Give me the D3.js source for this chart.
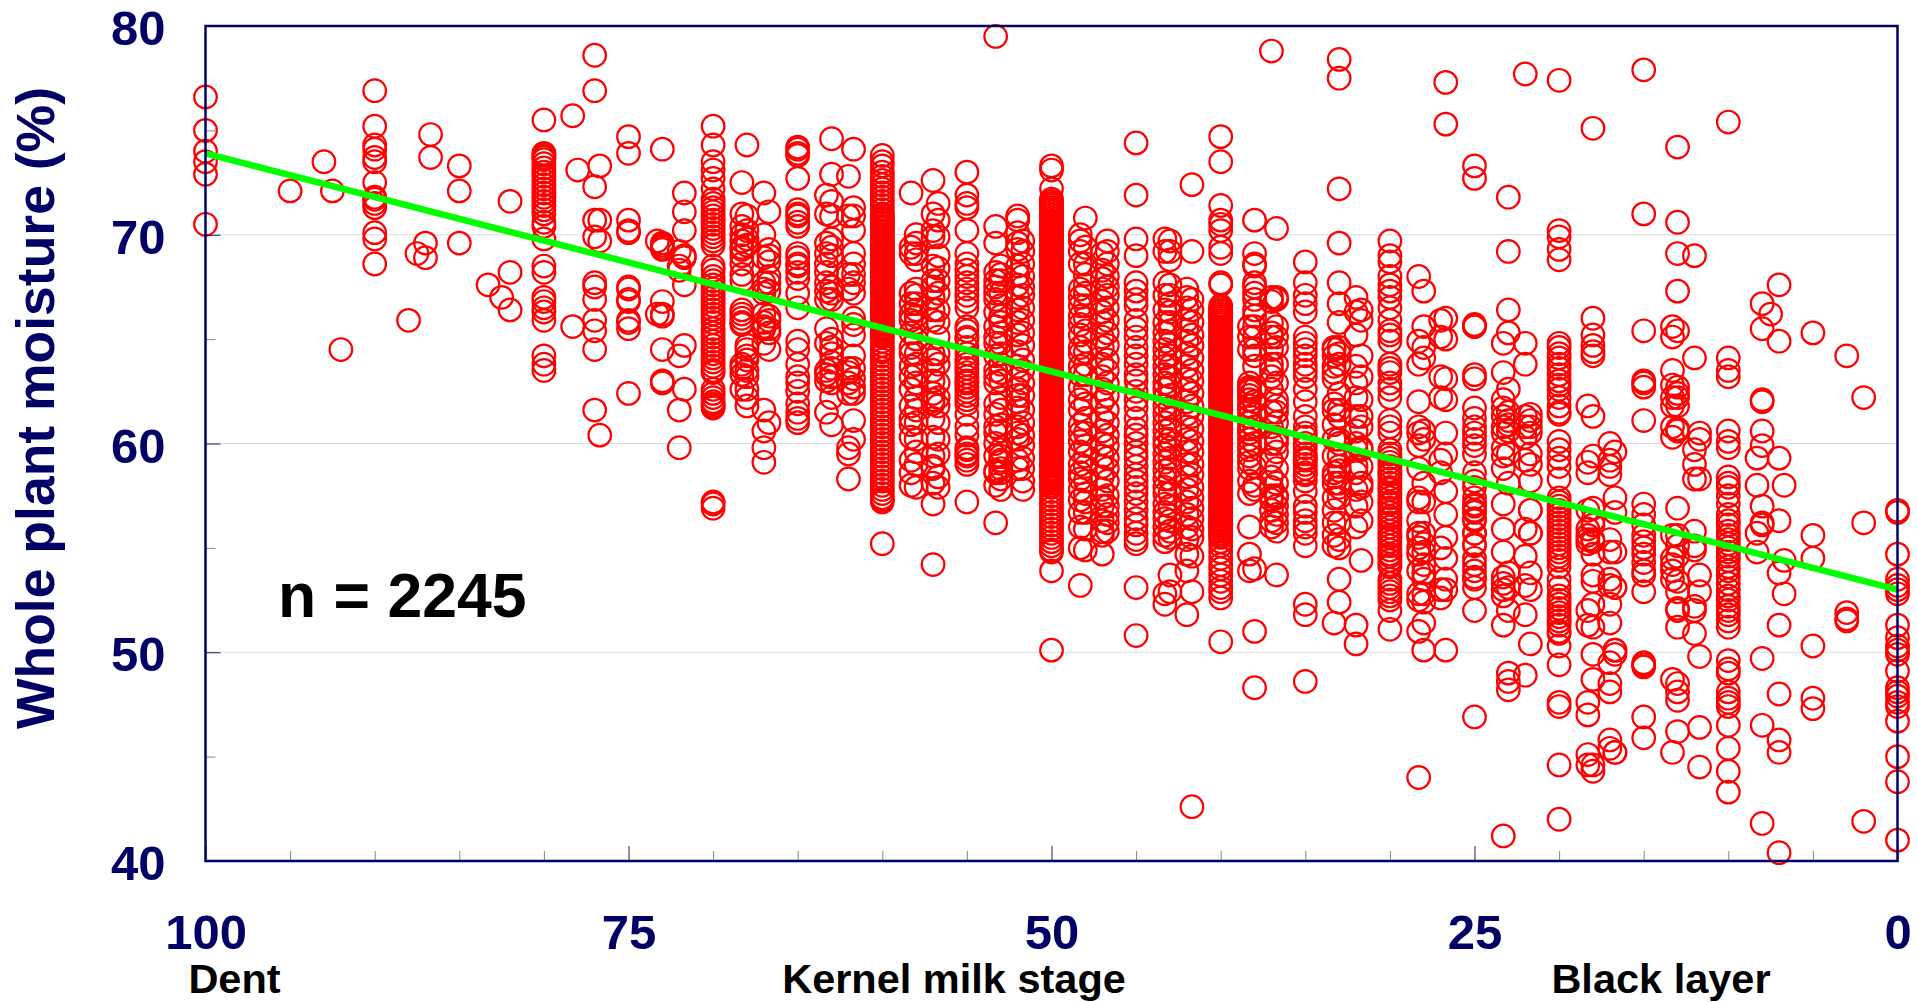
<!DOCTYPE html>
<html>
<head>
<meta charset="utf-8">
<title>Whole plant moisture by kernel milk stage</title>
<script src="https://d3js.org/d3.v7.min.js"></script>
<style>
    body { margin: 0; background: #fff; }
    text { font-family: "Liberation Sans", Arial, sans-serif; font-weight: bold; }
</style>
</head>
<body>
<script>
// milk stage (%) of each column of readings, moisture (%) readings at that stage in the same order
var stages = [100, 95, 93, 92.5, 92, 90, 88, 87.5, 87, 86.7, 85, 83.3, 82.5, 82, 80, 78.3, 78, 77, 76.7, 75,
    73.3, 73, 72, 71.7, 70, 68.3, 68, 67, 66.7, 65, 63.3, 63, 62, 61.7, 60, 58.3, 58, 57, 56.7, 55,
    53.3, 53, 52, 51.7, 50, 48.3, 48, 47, 46.7, 45, 43.3, 43, 42, 41.7, 40, 38.3, 38, 37, 36.7, 35,
    33.3, 33, 32, 31.7, 30, 28.3, 28, 27, 26.7, 25, 23.3, 23, 22, 21.7, 20, 18.3, 18, 17, 16.7, 15,
    13.3, 13, 12, 11.7, 10, 8.3, 8, 7.5, 7, 6.7, 5, 3, 2, 0];

var moisture = [
    [76.6, 75, 74, 73.5, 72.9, 70.5],
    [72.1],
    [73.5],
    [72.1],
    [64.5],
    [76.9, 75.2, 74.3, 74.1, 73.7, 73.5, 72.5, 71.8, 71.7, 71.5, 71.3, 70.1, 69.8, 68.6],
    [65.9],
    [69.1],
    [69.6, 68.9],
    [74.8, 73.7],
    [73.3, 72.1, 69.6],
    [67.6],
    [67],
    [71.6, 68.2, 66.4],
    [75.5, 73.9, 73.8, 73.7, 73.6, 73.4, 73.2, 73, 72.8, 72.6, 72.4, 72.2, 72, 71.8, 71.6, 71.4, 71.2, 71, 70.6, 70.4, 69.8, 68.5, 68.2, 67, 66.8, 66.5, 66.3, 65.9, 64.2, 63.8, 63.5],
    [75.7, 65.6],
    [73.1],
    [78.6, 76.9, 72.3, 70.7, 69.9, 67.7, 67.5, 66.9, 65.9, 65.4, 64.5, 61.6],
    [73.3, 70.7, 69.7, 60.4],
    [74.7, 73.9, 70.7, 70.2, 70.1, 67.5, 67.4, 66.9, 66.8, 65.9, 65.8, 65.5, 62.4],
    [69.7, 66.2],
    [74.1, 69.6, 69.5, 69.4, 69.3, 66.8, 66.2, 66.1, 64.5, 63, 62.9],
    [69.2, 68.5, 68.3, 64.2, 61.6, 59.8],
    [72, 71.1, 70.2, 69, 68.9, 67.6, 64.7, 62.6],
    [75.2, 74.3, 73.5, 73.1, 72.7, 72.2, 71.7, 71.5, 71.3, 71.1, 70.9, 70.7, 70.5, 70.3, 70.1, 69.9, 69.7, 69.5, 68.5, 68.3, 68, 67.8, 67.6, 67.4, 67.2, 67, 66.8, 66.6, 66.4, 66.2, 66, 65.8, 65.5, 65.3, 65.1, 64.9, 64.7, 64.5, 64.3, 64.1, 63.9, 63.7, 63.5, 63.4, 62.6, 62.4, 62.2, 62, 61.9, 61.8, 61.7, 57.2, 57.1, 56.9],
    [72.5, 71, 70.4, 70, 69.7, 69.4, 69.3, 69, 68.6, 68.1, 67.8, 66.4, 66.2, 66, 65.8, 65.7, 63.8, 63.6, 63.3, 62.6],
    [74.3, 70.9, 70.2, 69.8, 69.5, 64.7, 64.5, 64.2, 64, 63.5, 63.2, 62.6, 62.2, 61.8],
    [72, 70, 68.9, 67.7, 67.4, 67.2, 66.2, 65.8, 65.6, 65.5, 64.8, 61.6, 60.6, 59.8, 59.1],
    [71.1, 69.3, 69, 68.7, 68, 67.7, 67.3, 66.1, 65.9, 65.5, 65.3, 64.5, 61],
    [74.2, 74.1, 73.9, 73.8, 72.7, 71.2, 71, 70.9, 70.6, 70.4, 69.1, 68.9, 68.6, 68.5, 68.2, 67.9, 67.2, 66.5, 64.9, 64.5, 63.8, 63.2, 62.9, 62.5, 61.9, 61.5, 61.2, 61],
    [71.9, 71, 69.6, 69.1, 68.6, 68.2, 67.7, 67.3, 66.9, 65.5, 64.8, 63.5, 63.3, 63, 61.5],
    [74.6, 72.9, 71.6, 70.9, 69.8, 69.4, 69, 67.5, 67.2, 66.9, 65, 64.6, 64.3, 63.9, 63.6, 63.2, 62.9, 62.2, 60.9],
    [72.8, 70.9, 68.1, 67.4, 63.6, 63.4, 62.9, 62.4, 59.8, 59.5, 58.3],
    [74.1, 71.3, 70.9, 70.2, 69.1, 68.6, 68.1, 67.7, 67.2, 66, 65.7, 65.2, 64.2, 63.6, 63.1, 62.7, 62.4, 61.1, 60.2],
    [73.8, 73.5, 73.3, 73, 72.8, 72.6, 72.4, 72.2, 72, 71.8, 71.6, 71.4, 71.2, 71, 70.9, 70.8, 70.7, 70.6, 70.5, 70.4, 70.3, 70.2, 70.1, 70, 69.9, 69.8, 69.7, 69.6, 69.5, 69.4, 69.3, 69.2, 69.1, 69, 68.9, 68.8, 68.7, 68.6, 68.5, 68.4, 68.3, 68.2, 68.1, 68, 67.9, 67.8, 67.7, 67.6, 67.5, 67.4, 67.3, 67.2, 67.1, 67, 66.9, 66.8, 66.7, 66.6, 66.5, 66.4, 66.3, 66.2, 66.1, 66, 65.9, 65.8, 65.7, 65.6, 65.5, 65.4, 65.3, 65.2, 65.1, 64.9, 64.7, 64.5, 64.4, 64.2, 64, 63.8, 63.6, 63.4, 63.2, 63, 62.8, 62.6, 62.4, 62.2, 62, 61.8, 61.6, 61.4, 61.2, 61, 60.8, 60.6, 60.4, 60.2, 60, 59.8, 59.6, 59.4, 59.2, 59, 58.8, 58.6, 58.4, 58.2, 58, 57.8, 57.6, 57.4, 57.3, 57.2, 55.2],
    [72, 69.4, 69.1, 67.2, 66.7, 66.2, 65.9, 65.3, 64.6, 64.3, 63.7, 63.2, 62.6, 61.8, 61.2, 60.9, 60.3, 59.2, 58.6, 58],
    [70, 69.6, 69.1, 68.8, 67.4, 67.1, 66.7, 66.4, 66.1, 65.8, 65, 64.3, 63.8, 63.3, 62.9, 62.2, 61.6, 61, 60.2, 59.6, 59, 57.9],
    [72.6, 71, 70.2, 69.9, 68.5, 67.8, 67.5, 67, 66.4, 65.9, 64.3, 64, 63.5, 63, 62.4, 62.1, 61.9, 61.2, 60.3, 59.4, 58.9, 58.8, 58.1, 57.1, 54.2],
    [71.5, 70.7, 69.9, 69, 68.4, 67.8, 67.2, 66.4, 65.8, 65.1, 64.3, 63.8, 62.9, 62.2, 61.8, 61, 60.2, 59.5, 58.4, 57.9],
    [73, 71.9, 71.5, 71.3, 70.2, 69.1, 68.6, 68.3, 68, 67.7, 67.4, 67.1, 66.8, 66.5, 65.6, 65.4, 65.1, 65, 64.6, 64.3, 64, 63.8, 63.6, 63.4, 63.2, 63, 62.9, 62.7, 62.5, 62.3, 62.1, 61.9, 61.4, 60.8, 60.4, 59.8, 59.7, 59.5, 59.4, 59.2, 59, 57.2],
    [79.5, 70.4, 69.6, 68.2, 67.8, 67.5, 67.2, 66.9, 66.3, 65.6, 65.1, 64.8, 64.2, 63.5, 63.2, 62.9, 61.9, 61.4, 60.8, 60.5, 60, 59.4, 58.6, 58.7, 58, 56.2],
    [68.5, 68.1, 67.8, 67.2, 66.6, 66.1, 65.8, 65.3, 64.8, 64.3, 63.8, 63.4, 63, 62.2, 61.6, 60.9, 60.6, 59.7, 59.2, 58.6, 59.4, 59.1, 58.8, 58.3, 57.8],
    [70.9, 70.7, 70.1, 69.6, 69.3, 68.5, 68.1, 67.6, 67, 66.4, 65.8, 65.2, 64.4, 63.7, 63.1, 62.6, 62.3, 62, 61.7, 60.8, 60.5, 60.2, 59.2, 58.8],
    [69.7, 69.2, 68.6, 68, 67.5, 67.1, 66.5, 65.9, 65.3, 64.7, 64, 63.5, 62.9, 62.3, 61.6, 61, 60.4, 59.9, 59.3, 58.8, 58.2, 57.8],
    [73.3, 73.1, 72.2, 71.7, 71.6, 71.5, 71.4, 71.3, 71.2, 71.1, 71, 70.9, 70.8, 70.7, 70.6, 70.5, 70.4, 70.3, 70.2, 70.1, 70, 69.9, 69.8, 69.7, 69.6, 69.5, 69.4, 69.3, 69.2, 69.1, 69, 68.9, 68.8, 68.7, 68.6, 68.5, 68.4, 68.3, 68.2, 68.1, 68, 67.9, 67.8, 67.7, 67.6, 67.5, 67.4, 67.3, 67.2, 67.1, 67, 66.9, 66.8, 66.7, 66.6, 66.5, 66.4, 66.3, 66.2, 66.1, 66, 65.9, 65.8, 65.7, 65.6, 65.5, 65.4, 65.3, 65.2, 65.1, 65, 64.9, 64.8, 64.7, 64.6, 64.5, 64.4, 64.3, 64.2, 64.1, 64, 63.9, 63.8, 63.7, 63.6, 63.5, 63.4, 63.3, 63.2, 63.1, 63, 62.9, 62.8, 62.7, 62.6, 62.5, 62.4, 62.3, 62.2, 62.1, 62, 61.9, 61.8, 61.7, 61.6, 61.5, 61.4, 61.3, 61.2, 61.1, 61, 60.9, 60.8, 60.7, 60.6, 60.5, 60.4, 60.3, 60.2, 60.1, 60, 59.9, 59.8, 59.7, 59.6, 59.5, 59.4, 59.3, 59.2, 59.1, 59, 58.9, 58.8, 58.7, 58.6, 58.5, 58.4, 58.3, 58.2, 58.1, 58, 57.9, 57.7, 57.5, 57.3, 57.1, 56.9, 56.7, 56.5, 56.3, 56.1, 55.9, 55.7, 55.5, 55.3, 55.1, 54.9, 54.8, 53.9, 50.1],
    [70, 69.7, 69.2, 68.6, 67.4, 67, 66.6, 66.1, 65.7, 65.2, 64.6, 64.3, 63.7, 63.3, 62.7, 62.1, 61.6, 60.9, 60.5, 60.1, 59.6, 59, 58.6, 58.3, 57.8, 57.3, 56.7, 56, 55, 53.2],
    [70.8, 69.4, 68.6, 68.1, 67.6, 67.2, 66.6, 66, 65.4, 64.9, 64.4, 63.8, 63.3, 62.6, 61.9, 61.2, 60.5, 59.9, 59.4, 58.9, 58.2, 57.6, 57.2, 56.7, 55.9, 54.9],
    [69.1, 68.3, 67.9, 67.4, 66.8, 66.3, 65.8, 65.1, 64.6, 63.8, 63.2, 62.6, 62, 61.2, 60.6, 60, 59.4, 58.9, 58.4, 57.8, 57.4, 57, 56.3, 55.8, 55.6, 54.7],
    [69.7, 69.2, 68.6, 68, 67.5, 67.1, 66.5, 65.9, 65.3, 64.7, 64, 63.5, 62.9, 62.3, 61.6, 61, 60.4, 59.9, 59.3, 58.8, 58.2, 57.5, 57, 56.6, 56.2, 55.8],
    [74.4, 71.9, 69.8, 69, 67.7, 67.3, 66.9, 66.6, 65.9, 65.5, 65.1, 64.6, 64.2, 63.8, 63.3, 63, 62.5, 62.1, 61.7, 61.2, 60.7, 60.4, 60, 59.6, 59.3, 58.9, 58.5, 58.2, 57.9, 57.6, 57.2, 56.8, 56.4, 56.1, 55.7, 55.4, 55.2, 53.1, 50.8],
    [69.8, 69.2, 67.7, 67.1, 66.4, 65.8, 65.3, 64.9, 64.5, 64.1, 63.7, 63.3, 62.9, 62.6, 62.2, 61.8, 61.4, 61, 60.6, 60.2, 59.9, 59.5, 59.1, 58.7, 58.3, 57.9, 57.6, 57.1, 56.7, 56.4, 56, 55.6, 55.3, 52.8, 52.3],
    [69.7, 69.2, 68.8, 67.6, 67.1, 66.7, 66.3, 65.8, 65.4, 64.8, 64.2, 63.7, 63.2, 62.8, 62.3, 61.7, 61.2, 60.7, 60.2, 59.8, 59.3, 58.8, 58.3, 57.6, 57, 56.3, 55.8, 55.5, 53.7, 52.9],
    [67.4, 67, 66.5, 65.9, 65.4, 64.9, 64.3, 63.7, 63.1, 62.6, 62, 61.4, 60.8, 60.2, 59.6, 59, 58.4, 57.8, 57.2, 56.6, 56, 55.4, 54.7, 53.9, 51.8],
    [72.4, 69.2, 66.9, 66.4, 65.8, 65.2, 64.7, 64.1, 63.5, 63, 62.4, 61.8, 61.3, 60.7, 60.1, 59.6, 59, 58.5, 57.9, 57.4, 56.9, 56.4, 55.9, 55.5, 54.6, 52.9, 42.6],
    [74.7, 73.5, 71.4, 70.7, 70.5, 70.2, 69.4, 69.1, 67.7, 67.6, 66.6, 66.5, 66.4, 66.3, 66.2, 66.1, 66, 65.9, 65.8, 65.7, 65.6, 65.5, 65.4, 65.3, 65.2, 65.1, 65, 64.9, 64.8, 64.7, 64.6, 64.5, 64.4, 64.3, 64.2, 64.1, 64, 63.9, 63.8, 63.7, 63.6, 63.5, 63.4, 63.3, 63.2, 63.1, 63, 62.9, 62.8, 62.7, 62.6, 62.5, 62.4, 62.3, 62.2, 62.1, 62, 61.9, 61.8, 61.7, 61.6, 61.5, 61.4, 61.3, 61.2, 61.1, 61, 60.9, 60.8, 60.7, 60.6, 60.5, 60.4, 60.3, 60.2, 60.1, 60, 59.9, 59.8, 59.7, 59.6, 59.5, 59.4, 59.3, 59.2, 59.1, 59, 58.9, 58.8, 58.7, 58.6, 58.5, 58.4, 58.3, 58.2, 58.1, 58, 57.9, 57.8, 57.7, 57.6, 57.5, 57.4, 57.3, 57.2, 57.1, 57, 56.9, 56.8, 56.7, 56.6, 56.5, 56.4, 56.3, 56.2, 56.1, 56, 55.9, 55.8, 55.7, 55.6, 55.5, 55.3, 55.1, 54.8, 54.5, 54.2, 54, 53.7, 53.4, 53.1, 52.9, 52.6, 50.5],
    [65.6, 65.1, 64.5, 62.9, 62.7, 62.6, 62.5, 62.3, 62.1, 61.8, 61.6, 61.3, 61, 60.7, 60.5, 60.2, 59.9, 59.7, 59.4, 59.1, 58.8, 58.2, 57.6, 56, 54.7, 53.9],
    [70.7, 69.1, 68.6, 68.5, 67.7, 67.5, 67.2, 66.9, 66.4, 66.1, 65.6, 65.1, 64.5, 64.2, 63.7, 62.6, 62, 61.4, 60.8, 60, 58.9, 58, 57.8, 54, 51, 48.3],
    [78.8, 67, 66.8, 65.8, 65.3, 65.1, 64.5, 63.8, 63.5, 63.2, 62.6, 61.5, 60.8, 60, 59.2, 58.4, 57.9, 57.5, 57.3, 56.8, 56.3, 56],
    [70.3, 67, 66.9, 65.6, 65.1, 64.6, 63.8, 62.9, 62.1, 61.8, 61.5, 61, 60.3, 60, 59.6, 58.8, 58.1, 57.5, 57.4, 57, 56.6, 56.2, 55.8, 53.7],
    [68.7, 67.7, 67.1, 66.7, 66.3, 65.1, 64.8, 64.5, 64.2, 63.8, 63.5, 63.2, 62.6, 62, 61.3, 60.8, 60.5, 60.3, 60, 59.8, 59.5, 59.3, 59.2, 59, 58.8, 58.6, 58.5, 58.2, 57.7, 57, 56.7, 56.3, 56, 55.7, 55.1, 52.3, 51.8, 48.6],
    [64.6, 64.5, 64.2, 63.7, 63.4, 63.1, 61.9, 61.6, 60.9, 60.2, 59.4, 58.6, 58.4, 58.1, 57.4, 56.8, 56.2, 55.6, 55.1, 51.4],
    [78.4, 77.5, 72.2, 69.6, 67.7, 66.7, 65.8, 64.6, 64.3, 63.8, 62.4, 61.6, 61.3, 60.2, 60, 59.4, 58.9, 58.7, 58.1, 57.9, 57.4, 56.2, 55.4, 55, 53.5, 52.4],
    [67, 66.3, 65.2, 63.7, 62.9, 62.2, 61.3, 60.6, 60, 59.7, 58.9, 58.6, 57.8, 57, 56, 51.3, 50.4],
    [66.4, 65.9, 64.2, 63.2, 62.1, 61.3, 60.8, 59.8, 59.7, 58.9, 58.1, 57.9, 57.2, 56.3, 54.4],
    [69.7, 69, 68.7, 68, 67.6, 67.3, 67, 66.5, 65.9, 65.4, 65.2, 64.9, 63.8, 63.6, 63.4, 62.9, 62.6, 62.2, 61.1, 60.8, 60.5, 59.7, 59.5, 59.3, 59.1, 58.9, 58.7, 58.6, 58.5, 58.3, 58.1, 57.9, 57.8, 57.6, 57.4, 57.2, 57.1, 56.9, 56.7, 56.5, 56.4, 56.2, 56, 55.8, 55.6, 55.5, 55.3, 55.1, 54.9, 54.7, 54.6, 54.4, 54.2, 54.1, 53.5, 53.3, 53.1, 52.9, 52.7, 52.5, 52, 51.1],
    [68, 64.9, 63.8, 62, 60.8, 60.5, 59.9, 58.8, 57.4, 57.2, 56.3, 55.7, 55.5, 55, 54.7, 53.9, 52.8, 52.5, 51, 44],
    [67.3, 65.6, 64.6, 64.1, 60.6, 60.2, 58.1, 57.2, 55.7, 55.2, 54.8, 54.2, 53.8, 53.5, 52.8, 52.4, 51.4, 50.1],
    [65.9, 65.1, 63.2, 62.2, 59.2, 58.6, 55, 53, 52.6],
    [77.3, 75.3, 66, 65, 63.1, 62.1, 60.5, 59.5, 57.7, 56.6, 55.5, 54.5, 53.5, 53, 50.1],
    [73.3, 72.7, 65.7, 65.6, 65.6, 63.3, 63.1, 61.7, 61.2, 60.8, 60.5, 60.2, 59.9, 59.5, 58.6, 58.2, 57.9, 57.4, 57.1, 56.8, 56.4, 55.7, 55.2, 54.5, 53.5, 57, 56.7, 56.3, 55.7, 55.1, 54.2, 53.9, 53.6, 53.1, 52, 46.9],
    [64.8, 63.4, 62.1, 61.7, 61.3, 60.8, 60.5, 59.8, 59.4, 58.8, 57.1, 55.9, 54.8, 53.6, 53.3, 53, 52.7, 51.3, 41.2],
    [71.8, 69.2, 66.4, 65.3, 62.6, 61.5, 61.1, 60.9, 60.6, 59.5, 58.1, 53.8, 53.1, 52, 49, 48.6, 48.2],
    [77.7, 64.8, 63.8, 61.3, 60.8, 60.3, 59.2, 55.9, 53.2, 51.8, 54.6, 48.9],
    [61.4, 61.1, 60.8, 60.5, 59.5, 59, 58.2, 56.8, 55.7, 56.8, 55.7, 53.8, 53, 50.4],
    [77.4, 70.2, 69.9, 69.3, 68.8, 64.8, 64.6, 64.3, 64.1, 63.8, 63.6, 63.3, 63, 62.8, 62.6, 62.2, 61.8, 61.5, 61.4, 60.1, 59.7, 59.3, 58.9, 58.3, 57.4, 57.2, 57, 56.8, 56.6, 56.4, 56.2, 56, 55.8, 55.6, 55.4, 55.2, 55, 54.8, 54.6, 54.4, 54.1, 53.5, 53.1, 52.7, 52.5, 52.3, 52.1, 51.9, 51.7, 51.5, 51.3, 51, 50.9, 50.3, 49.4, 47.6, 47.4, 44.6, 42],
    [61.8, 59.1, 58.6, 56.8, 55.9, 55.2, 55.6, 55.4, 52, 51.3, 47.6, 47, 44.6, 45.1],
    [75.1, 66, 65.2, 64.7, 64.4, 64.2, 61.3, 59.4, 56.9, 56.3, 56.1, 55.4, 55.3, 54.7, 53.7, 53.4, 52.3, 51.2, 49.9, 48.7, 44.6, 44.3],
    [60, 59.2, 58.9, 58.5, 55.4, 54.8, 53.5, 53.2, 52.3, 51.4, 49.5, 45.8, 45.4, 48.5, 48.1],
    [59.6, 57.4, 56.7, 54.8, 53.1, 53.1, 49.9, 50.1, 50.1, 45.2, 45.2],
    [77.9, 71, 65.4, 63, 62.9, 62.7, 61.1, 57.1, 56.6, 56.1, 55.6, 55.3, 55, 54.7, 54.3, 53.9, 53.7, 52.9, 49.5, 49.4, 49.3, 46.9, 45.9],
    [65.6, 65.1, 63.5, 62.8, 62.2, 61.8, 60.3, 60.8, 55.6, 54.5, 54.2, 53.9, 53.5, 48.7, 45.2],
    [74.2, 70.6, 69.1, 67.3, 65.4, 62.7, 62.4, 62.2, 60.6, 61.8, 60.7, 56.9, 55.6, 55.1, 54.6, 53.4, 52.9, 52.1, 52, 51.2, 48.5, 48.1, 47.7, 46.2],
    [69, 64.1, 59.7, 59, 58.3, 55.8, 55.1, 52, 54.9, 52.2, 50.9],
    [60.2, 60.5, 58.3, 53.7, 52.9, 49.8, 46.4, 44.5],
    [75.4, 64.1, 63.5, 63.2, 60.6, 60.1, 59.8, 58.4, 58.1, 57.9, 57.5, 57.1, 56.6, 56.3, 56.1, 55.8, 55.6, 55.4, 55.2, 55, 54.8, 54.6, 54.4, 54.1, 53.9, 53.6, 53.3, 53, 52.7, 52.5, 52.2, 52, 51.8, 51.5, 51.2, 49.6, 49.2, 49, 48.1, 47.8, 47.6, 47.4, 46.5, 45.4, 44.3, 43.3],
    [59.3, 58, 55.7, 54.8],
    [66.7, 65.5, 62.1, 62, 60.6, 59.9, 57, 56.2, 56.1, 49.7, 46.5, 41.8],
    [66.2],
    [67.6, 64.9, 59.3, 56.3, 53.8, 51.3, 48, 45.8, 45.2, 40.4],
    [58, 54.4, 52.8],
    [65.3, 55.6, 54.5, 50.3, 47.8, 47.3],
    [64.2, 51.9, 51.6, 51.5],
    [62.2, 56.2, 41.9],
    [56.8, 56.7, 54.7, 53.5, 53.2, 53, 52.8, 51.3, 50.7, 50.3, 50.1, 49.9, 49.1, 48.3, 48.1, 47.9, 47.6, 47.4, 46.7, 45, 43.8, 41]
];

var trendStage = [100, 0],
    trendMoisture = [73.9, 53];

var yMajor = [40, 50, 60, 70, 80],
    yMinor = [45, 55, 65, 75],
    xMajor = [100, 75, 50, 25, 0],
    xMinor = [95, 90, 85, 80, 70, 65, 60, 55, 45, 40, 35, 30, 20, 15, 10, 5],
    gridValues = [50, 60, 70];

var yLabel = "Whole plant moisture (%)",
    countLabel = "n = 2245",
    stageLabels = ["Dent", "Kernel milk stage", "Black layer"];

var _width = 1917, _height = 1002,
    _margins = {top: 26, left: 205.5, right: 19.5, bottom: 141},
    navy = "#000066";

var svg = d3.select("body").append("svg")
    .attr("width", _width)
    .attr("height", _height);

var x = d3.scaleLinear().domain([100, 0]).range([_margins.left, _width - _margins.right]);
var y = d3.scaleLinear().domain([40, 80]).range([_height - _margins.bottom, _margins.top]);

// grid lines go under the points
svg.append("g").selectAll("line")
    .data(gridValues)
    .enter().append("line")
    .attr("x1", x(100)).attr("x2", x(0))
    .attr("y1", function (d) { return y(d); })
    .attr("y2", function (d) { return y(d); })
    .attr("stroke", "#dcdcdc")
    .attr("stroke-width", 1);

var points = [];
stages.forEach(function (s, i) {
    moisture[i].forEach(function (m) { points.push({stage: s, value: m}); });
});

svg.append("g").selectAll("circle")
    .data(points)
    .enter().append("circle")
    .attr("cx", function (d) { return x(d.stage); })
    .attr("cy", function (d) { return y(d.value); })
    .attr("r", 11.3)
    .attr("fill", "none")
    .attr("stroke", "#ff0000")
    .attr("stroke-width", 2.2);

var trend = d3.line()
    .x(function (d) { return x(d); })
    .y(function (d, i) { return y(trendMoisture[i]); });

svg.append("path")
    .attr("d", trend(trendStage))
    .attr("fill", "none")
    .attr("stroke", "#00ff00")
    .attr("stroke-width", 6.5);

// minor ticks have no labels, major ticks are longer and carry the numbers
var xMinorAxis = d3.axisBottom(x).tickValues(xMinor).tickSize(-10).tickFormat("");
var xMajorAxis = d3.axisBottom(x).tickValues(xMajor).tickSize(-15).tickPadding(53).tickFormat(d3.format("d"));
var yMinorAxis = d3.axisLeft(y).tickValues(yMinor).tickSize(-10).tickFormat("");
var yMajorAxis = d3.axisLeft(y).tickValues(yMajor).tickSize(-15).tickPadding(40).tickFormat(d3.format("d"));

function styleAxis(g, tickOpacity) {
    g.select(".domain").remove();
    g.selectAll(".tick line").attr("stroke", navy).attr("stroke-opacity", tickOpacity);
    g.selectAll(".tick text")
        .attr("fill", navy)
        .style("font-family", '"Liberation Sans", Arial, sans-serif')
        .style("font-weight", "bold")
        .style("font-size", "49px");
}

var xPos = "translate(0," + (_height - _margins.bottom) + ")",
    yPos = "translate(" + _margins.left + ",0)";

svg.append("g").attr("transform", xPos).call(xMinorAxis).call(styleAxis, 0.5);
svg.append("g").attr("transform", xPos).call(xMajorAxis).call(styleAxis, 0.9);
svg.append("g").attr("transform", yPos).call(yMinorAxis).call(styleAxis, 0.5);
svg.append("g").attr("transform", yPos).call(yMajorAxis).call(styleAxis, 0.9)
    .selectAll(".tick text").attr("dy", "0.38em");

// plot frame sits on top of the points
svg.append("rect")
    .attr("x", x(100))
    .attr("y", y(80))
    .attr("width", x(0) - x(100))
    .attr("height", y(40) - y(80))
    .attr("fill", "none")
    .attr("stroke", navy)
    .attr("stroke-width", 2.5);

svg.append("text")
    .attr("transform", "translate(54,408) rotate(-90)")
    .attr("text-anchor", "middle")
    .attr("fill", navy)
    .style("font-size", "53.5px")
    .text(yLabel);

svg.append("text")
    .attr("x", 278)
    .attr("y", 617)
    .attr("fill", "#000")
    .style("font-size", "62.5px")
    .text(countLabel);

svg.selectAll("text.stage")
    .data(stageLabels)
    .enter().append("text")
    .attr("class", "stage")
    .attr("x", function (d, i) { return [234.5, 954, 1661][i]; })
    .attr("y", 993)
    .attr("text-anchor", "middle")
    .attr("fill", "#000")
    .style("font-size", "41.5px")
    .text(function (d) { return d; });
</script>
</body>
</html>
